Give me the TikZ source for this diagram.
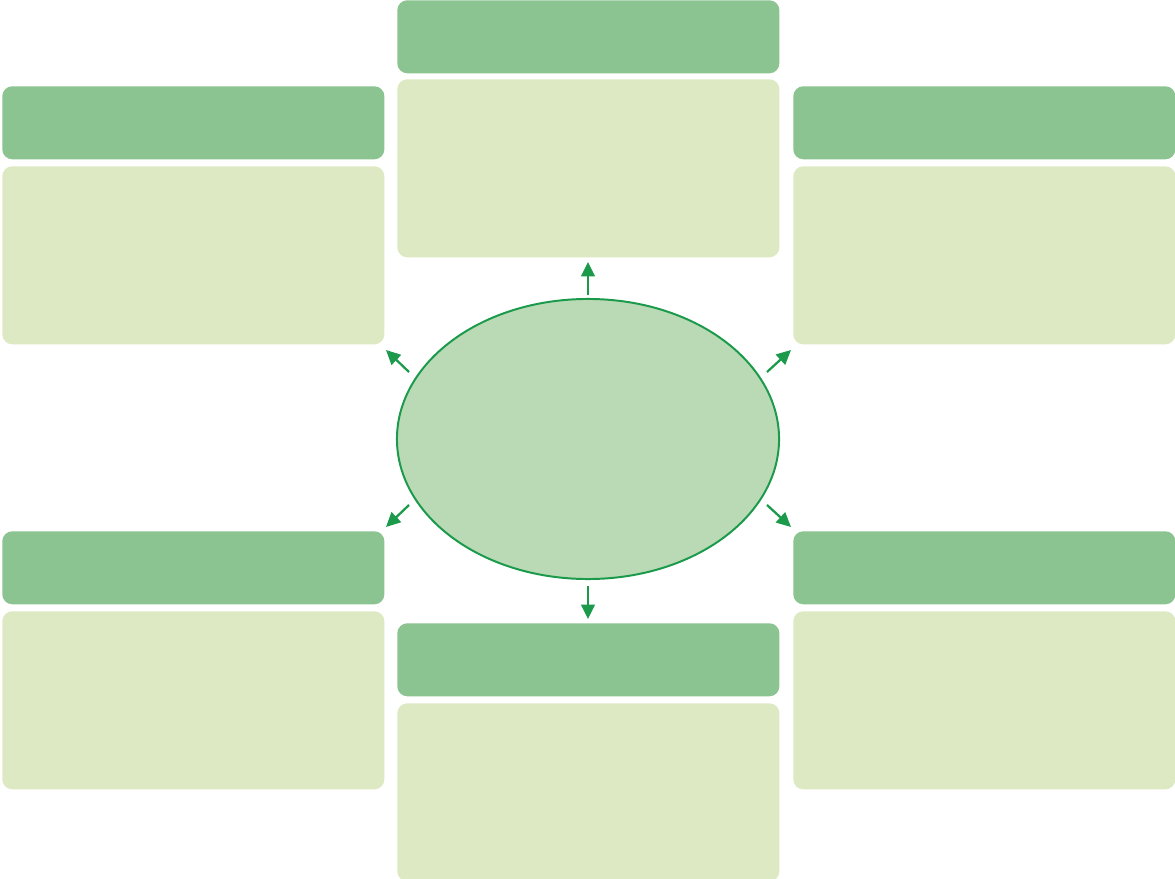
\documentclass[tikz,border=0pt]{standalone}
\usepackage{tikz}
\usetikzlibrary{positioning, shapes.geometric, arrows.meta}

\definecolor{hdrgreen}{HTML}{8BC391}
\definecolor{bodygreen}{HTML}{DDE9C3}
\definecolor{corefill}{HTML}{BADAB5}
\definecolor{coreline}{HTML}{1A9A4A}

\begin{document}
\begin{tikzpicture}[
  x=0.025cm, y=-0.025cm,
  hdr/.style={
    rectangle, rounded corners=0.25cm,
    fill=hdrgreen, anchor=north west, inner sep=0pt,
    minimum width=9.55cm, minimum height=1.825cm,
  },
  panel/.style={
    rectangle, rounded corners=0.25cm,
    fill=bodygreen, anchor=north west, inner sep=0pt,
    minimum width=9.55cm, minimum height=4.45cm,
  },
  core/.style={
    ellipse, fill=corefill, draw=coreline, line width=1.4pt,
    minimum width=9.55cm, minimum height=7cm, inner sep=0pt,
  },
  arr/.style={
    draw=coreline, line width=1.6pt,
    -{Triangle[length=0.36cm, width=0.34cm]},
  },
]
\useasboundingbox (0,0) rectangle (1175,879);

% centre
\node[core] (hub) at (588,439) {};

% top row
\node[hdr]   (topH)  at (397,0)   {};
\node[panel] (topB)  at (397,79)  {};
\node[hdr]   (ulH)   at (2,86)    {};
\node[panel] (ulB)   at (2,166)   {};
\node[hdr]   (urH)   at (793,86)  {};
\node[panel] (urB)   at (793,166) {};

% bottom row
\node[hdr]   (llH)   at (2,531)   {};
\node[panel] (llB)   at (2,611)   {};
\node[hdr]   (lrH)   at (793,531) {};
\node[panel] (lrB)   at (793,611) {};
\node[hdr]   (botH)  at (397,623) {};
\node[panel] (botB)  at (397,703) {};

% arrow ends
\coordinate (aT0) at (588,295); \coordinate (aT1) at (588,262);
\coordinate (aB0) at (588,586); \coordinate (aB1) at (588,619);
\coordinate (aUL0) at (409,372); \coordinate (aUL1) at (386,350);
\coordinate (aUR0) at (767,372); \coordinate (aUR1) at (791,350);
\coordinate (aLL0) at (409,505); \coordinate (aLL1) at (386,527);
\coordinate (aLR0) at (767,505); \coordinate (aLR1) at (791,527);

\draw[arr] (aT0) -- (aT1);
\draw[arr] (aB0) -- (aB1);
\draw[arr] (aUL0) -- (aUL1);
\draw[arr] (aUR0) -- (aUR1);
\draw[arr] (aLL0) -- (aLL1);
\draw[arr] (aLR0) -- (aLR1);

\end{tikzpicture}
\end{document}
